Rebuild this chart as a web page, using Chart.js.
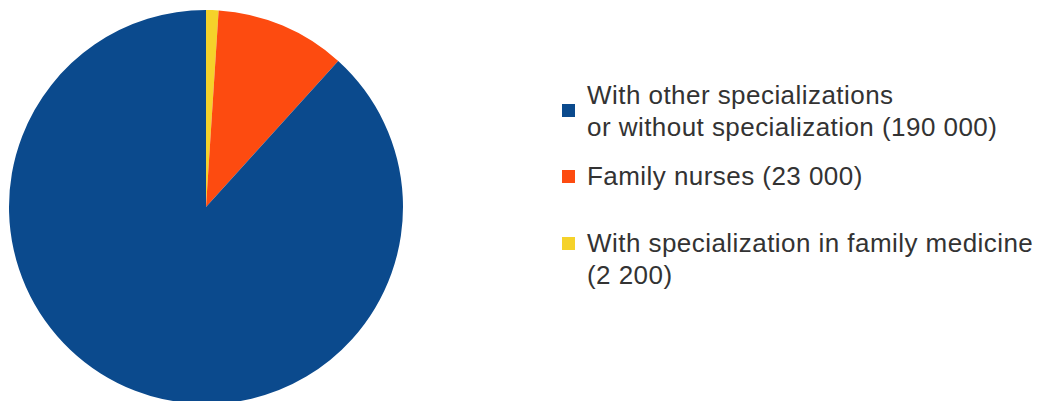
<!DOCTYPE html>
<html>
<head>
<meta charset="utf-8">
<script src="https://cdn.jsdelivr.net/npm/chart.js@4"></script>
<style>
  html, body { margin: 0; padding: 0; background: #fff; overflow: hidden; }
  #wrap { position: relative; width: 1038px; height: 401px; }
  #pieBox { position: absolute; left: 0; top: 0; width: 412px; height: 414px; }
  .item { position: absolute; left: 587px; font-family: "Liberation Sans", Arial, sans-serif;
          font-size: 26px; line-height: 32px; letter-spacing: 0.45px; color: #333; white-space: pre; }
  .box { position: absolute; left: 562px; width: 13px; height: 13px; }
</style>
</head>
<body>
<div id="wrap">
  <div id="pieBox"><canvas id="nurses"></canvas></div>
  <div id="legend"></div>
</div>
<script>
// slices go clockwise from 12 o'clock: yellow, orange, blue
var labels = ['With specialization in family medicine', 'Family nurses', 'With other specializations\nor without specialization'];
var values = [2200, 23000, 190000];
var colors = ['#f5d22a', '#fd4b10', '#0b4a8d'];
var valueOnNewLine = [true, false, false];

function fmt(n) {
    return String(n).replace(/\B(?=(\d{3})+(?!\d))/g, ' ');
}

var ctx = document.getElementById('nurses').getContext('2d');
var nursesChart = new Chart(ctx, {
    type: 'pie',
    data: {
        labels: labels,
        datasets: [{
            data: values,
            backgroundColor: colors,
            borderWidth: 0
        }]
    },
    options: {
        responsive: true,
        maintainAspectRatio: false,
        animation: false,
        radius: 197,
        layout: { padding: 0 },
        plugins: {
            legend: { display: false },
            tooltip: { enabled: false }
        }
    }
});

// legend on the right, biggest group first
var legend = document.getElementById('legend');
var itemTop = [227, 160, 79];
var boxTop = [237, 170, 104];
for (var i = labels.length - 1; i >= 0; i--) {
    var t = document.createElement('div');
    t.className = 'item';
    t.style.top = itemTop[i] + 'px';
    t.textContent = labels[i] + (valueOnNewLine[i] ? '\n' : ' ') + '(' + fmt(values[i]) + ')';
    legend.appendChild(t);
    var b = document.createElement('div');
    b.className = 'box';
    b.style.top = boxTop[i] + 'px';
    b.style.background = colors[i];
    legend.appendChild(b);
}
</script>
</body>
</html>
